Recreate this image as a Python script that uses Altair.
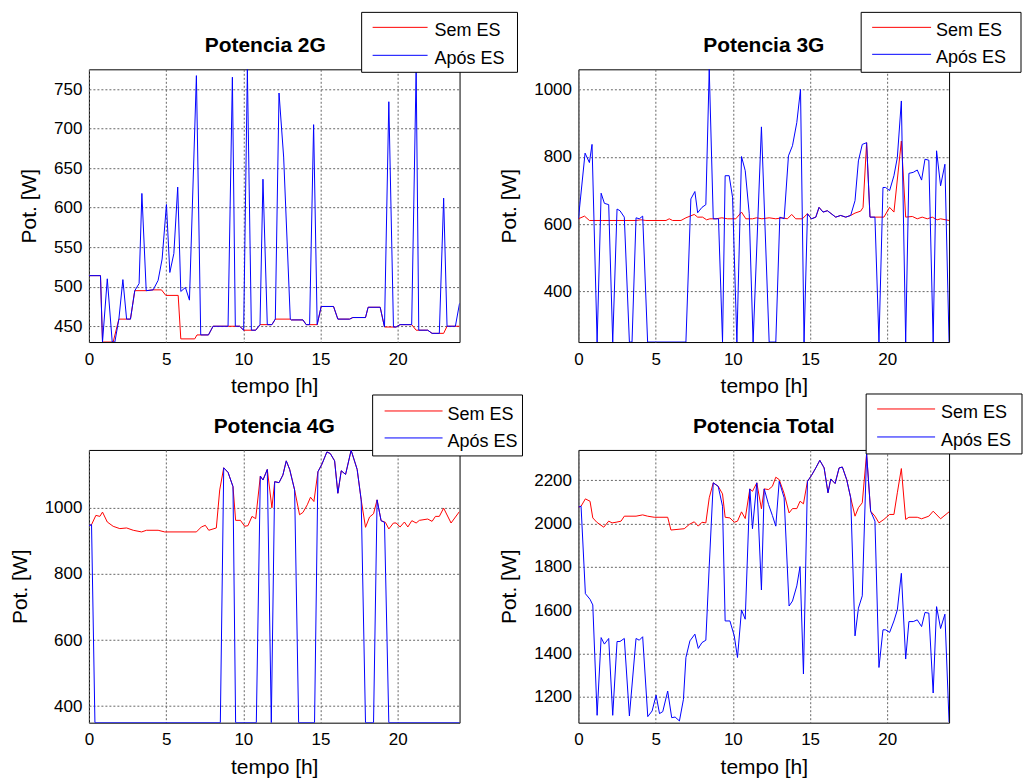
import altair as alt
import pandas as pd

FONT = "Liberation Sans"
RED = "#FF0000"
BLUE = "#0000FF"
SERIES = ["Sem ES", "Após ES"]
X_TICKS = [0, 5, 10, 15, 20]

# ---------------- Potencia 2G ----------------
t2g_sem = [0, 0.75, 0.88, 1.57, 1.94, 2.69, 2.97, 3.73, 4.16, 4.7, 4.98, 5.78, 5.95, 6.85, 7.0, 7.74,
           8.04, 9.76, 10.02, 10.8, 11.08, 11.85, 12.07, 13.04, 13.1, 13.86, 14.07, 14.78, 15.04, 15.84,
           16.12, 16.88, 17.09, 17.91, 18.08, 18.86, 19.14, 19.89, 20.15, 20.9, 21.19, 21.94, 22.22,
           22.97, 23.19, 24.0]
v2g_sem = [514, 514, 430, 430, 459, 459, 495, 495, 496, 496, 489, 489, 434, 434, 439, 439,
           450, 450, 445, 445, 452, 452, 459, 459, 458, 458, 452, 452, 475, 475,
           459, 459, 461, 461, 474, 474, 449, 449, 452, 452, 445, 445, 441,
           441, 450, 450]
t2g_apos = [0, 0.75, 0.88, 1.19, 1.51, 1.68, 1.94, 2.20, 2.44, 2.69, 2.97, 3.25, 3.43, 3.71, 4.16,
            4.48, 4.74, 5.02, 5.24, 5.5, 5.75, 5.95, 6.25, 6.51, 6.96, 7.24, 7.74, 8.04, 9.01, 9.29,
            9.48, 9.76, 10.02, 10.26, 10.52, 10.8, 11.08, 11.27, 11.55, 11.85, 12.07, 12.31, 12.61,
            13.04, 13.1, 13.86, 14.07, 14.29, 14.55, 14.78, 15.04, 15.84, 16.12, 16.88, 17.09, 17.91,
            18.08, 18.86, 19.14, 19.42, 19.72, 19.89, 20.15, 20.9, 21.19, 21.36, 21.94, 22.22, 22.69,
            22.97, 23.19, 23.73, 24.0]
v2g_apos = [514, 514, 430, 510, 430, 430, 459, 509, 459, 459, 495, 504, 618, 495, 496,
            508, 535, 604, 518, 542, 626, 494, 499, 483, 767, 439, 439, 450, 450, 765,
            450, 450, 445, 775, 445, 445, 452, 636, 452, 452, 459, 745, 664,
            459, 458, 458, 452, 452, 705, 452, 475, 475, 459, 459, 461, 461,
            474, 474, 449, 734, 449, 449, 452, 452, 775, 445, 445, 441, 441,
            612, 450, 450, 479]
y2g_domain = [430, 775]
y2g_ticks = [450, 500, 550, 600, 650, 700, 750]

# ---------------- Potencia 3G ----------------
t3g_sem = [0, 0.39, 0.71, 1.57, 3.73, 4.05, 4.37, 5.67, 5.88, 6.1, 6.64, 6.96, 7.5, 7.72, 8.04, 8.3,
           8.51, 8.9, 9.29, 9.66, 10.19, 10.56, 10.84, 11.27, 11.53, 11.88, 12.35, 12.78, 13.21, 13.53,
           13.81, 14.07, 14.5, 14.83, 15.09, 15.37, 15.58, 15.84, 16.12, 16.66, 16.98, 17.31, 17.63,
           17.91, 18.28, 18.43, 18.66, 18.88, 19.78, 20.15, 20.43, 20.91, 21.19, 21.62, 21.94, 22.26,
           22.59, 22.91, 23.23, 23.45, 24.0]
v3g_sem = [616, 624, 611, 611, 611, 613, 611, 611, 616, 611, 611, 619, 629, 621, 621, 613,
           616, 616, 619, 616, 616, 636, 616, 616, 619, 616, 619, 616, 619, 616,
           629, 616, 616, 631, 616, 621, 650, 636, 640, 621, 626, 621, 626,
           633, 639, 650, 842, 621, 621, 650, 636, 847, 621, 623, 616, 621,
           616, 621, 613, 616, 611]
t3g_apos = [0, 0.43, 0.71, 0.88, 1.21, 1.47, 1.68, 1.96, 2.22, 2.5, 2.69, 2.97, 3.3, 3.47, 3.73,
            3.94, 4.16, 4.48, 6.96, 7.28, 7.54, 7.72, 8.0, 8.25, 8.47, 8.73, 9.07, 9.33, 9.5, 9.76,
            9.98, 10.26, 10.56, 10.8, 11.06, 11.31, 11.85, 12.35, 12.78, 13.04, 13.32, 13.6, 13.86,
            14.14, 14.38, 14.61, 14.83, 15.09, 15.37, 15.58, 15.84, 16.12, 16.66, 16.98, 17.31, 17.63,
            17.91, 18.13, 18.38, 18.66, 18.88, 19.2, 19.46, 19.72, 19.89, 20.15, 20.43, 20.65, 20.91,
            21.19, 21.4, 21.68, 21.94, 22.22, 22.44, 22.69, 22.97, 23.19, 23.45, 23.73, 24.0]
v3g_apos = [616, 811, 783, 837, 250, 692, 662, 658, 250, 645, 640, 621, 250, 250, 619,
            616, 624, 250, 250, 675, 697, 634, 650, 658, 1060, 616, 616, 250, 744, 744,
            680, 250, 801, 759, 631, 250, 889, 250, 250, 621, 616, 803, 833,
            902, 1000, 250, 631, 616, 621, 650, 636, 640, 621, 626, 621, 626,
            670, 788, 837, 842, 621, 621, 250, 709, 709, 700, 744, 798, 966,
            250, 751, 754, 761, 731, 793, 790, 250, 818, 714, 778, 250]
y3g_domain = [250, 1060]
y3g_ticks = [400, 600, 800, 1000]

# ---------------- Potencia 4G ----------------
t4g_sem = [0, 0.17, 0.45, 0.71, 0.88, 1.19, 1.57, 2.0, 2.44, 2.87, 3.41, 3.73, 4.48, 4.91, 6.96,
           7.28, 7.54, 7.76, 8.25, 8.47, 8.73, 9.01, 9.33, 9.5, 9.81, 10.09, 10.3, 10.56, 10.8, 11.1,
           11.27, 11.55, 11.85, 12.03, 12.31, 12.56, 12.78, 13.0, 13.32, 13.64, 13.86, 14.14, 14.35,
           14.57, 14.83, 15.09, 15.41, 15.63, 15.91, 16.12, 16.34, 16.62, 16.98, 17.37, 17.63, 17.91,
           18.17, 18.43, 18.66, 18.92, 19.2, 19.42, 19.72, 19.89, 20.15, 20.43, 20.65, 20.91, 21.19,
           21.4, 21.94, 22.22, 22.44, 22.69, 22.97, 23.45, 24.0]
v4g_sem = [946, 949, 977, 974, 987, 957, 944, 937, 939, 932, 927, 932, 932, 927, 927,
           942, 947, 932, 939, 1054, 1121, 1107, 1064, 962, 962, 944, 946, 974, 967, 1096,
           1084, 1116, 1000, 1079, 1076, 1099, 1142, 1116, 1054, 979, 986, 1009, 1032,
           1019, 1109, 1132, 1169, 1164, 1142, 1044, 1112, 1101, 1174, 1116, 1024, 941,
           972, 982, 1024, 961, 956, 936, 954, 954, 942, 957, 942, 961, 954,
           962, 966, 959, 974, 974, 999, 954, 989]
t4g_apos = [0, 0.17, 0.39, 8.51, 8.73, 9.01, 9.33, 9.5, 10.84, 11.1, 11.27, 11.55, 11.81, 12.03,
            12.31, 12.56, 12.78, 13.0, 13.32, 13.58, 14.61, 14.83, 15.09, 15.41, 15.63, 15.91, 16.12,
            16.34, 16.62, 16.98, 17.37, 17.63, 17.91, 18.43, 18.66, 18.92, 19.14, 19.42, 24.0]
v4g_apos = [946, 949, 350, 350, 1121, 1107, 1064, 350, 350, 1096, 1084, 1116, 350, 1079,
            1076, 1099, 1142, 1116, 1054, 350, 350, 1109, 1132, 1169, 1164, 1142, 1044,
            1112, 1101, 1174, 1116, 1024, 350, 350, 1024, 961, 956, 350, 350]
y4g_domain = [350, 1175]
y4g_ticks = [400, 600, 800, 1000]

# ---------------- Potencia Total ----------------
ttot_sem = [0, 0.17, 0.45, 0.75, 0.93, 1.19, 1.64, 1.96, 2.18, 2.44, 2.76, 2.97, 3.73, 4.16, 4.48,
            4.91, 5.78, 5.99, 6.85, 7.18, 7.5, 7.76, 8.0, 8.25, 8.47, 8.73, 9.05, 9.33, 9.5, 9.81,
            10.09, 10.3, 10.56, 10.8, 11.1, 11.27, 11.55, 11.85, 12.03, 12.31, 12.56, 12.78, 13.0,
            13.32, 13.64, 13.86, 14.14, 14.35, 14.57, 14.83, 15.09, 15.37, 15.63, 15.91, 16.16, 16.34,
            16.62, 16.88, 17.09, 17.37, 17.63, 17.91, 18.13, 18.38, 18.66, 18.92, 19.2, 19.46, 19.78,
            20.15, 20.43, 20.65, 20.91, 21.19, 21.4, 21.94, 22.22, 22.69, 22.97, 23.45, 24.0]
vtot_sem = [2076, 2080, 2114, 2103, 2026, 2006, 1983, 2011, 2003, 2006, 2011, 2034, 2034, 2040, 2034,
            2029, 2029, 1970, 1976, 1996, 2008, 1988, 2006, 2003, 2119, 2188, 2172, 2137, 2029, 2026,
            2006, 2011, 2054, 2023, 2160, 2149, 2188, 2068, 2160, 2157, 2172, 2214, 2203,
            2139, 2049, 2069, 2069, 2103, 2091, 2195, 2222, 2257, 2292, 2257, 2142, 2206,
            2185, 2257, 2261, 2203, 2119, 2034, 2073, 2096, 2323, 2057, 2034, 2003, 2019,
            2042, 2042, 2142, 2254, 2019, 2029, 2029, 2022, 2034, 2057, 2022, 2054]
ttot_apos = [0, 0.17, 0.45, 0.75, 0.93, 1.21, 1.47, 1.68, 1.96, 2.22, 2.5, 2.69, 2.97, 3.3, 3.73,
             3.94, 4.16, 4.49, 4.77, 5.03, 5.25, 5.46, 5.78, 6.04, 6.26, 6.54, 6.8, 6.96, 7.22, 7.54,
             7.76, 8.0, 8.25, 8.47, 8.73, 9.05, 9.33, 9.5, 9.81, 10.09, 10.3, 10.56, 10.8, 11.1,
             11.27, 11.55, 11.85, 12.03, 12.31, 12.56, 12.78, 13.0, 13.32, 13.64, 13.86, 14.14,
             14.35, 14.57, 14.83, 15.09, 15.37, 15.63, 15.91, 16.16, 16.34, 16.62, 16.88, 17.09,
             17.37, 17.63, 17.91, 18.13, 18.38, 18.66, 18.92, 19.2, 19.46, 19.72, 19.89, 20.15,
             20.43, 20.65, 20.91, 21.19, 21.4, 21.68, 21.94, 22.22, 22.44, 22.69, 22.97, 23.19,
             23.45, 23.73, 24.0]
vtot_apos = [2076, 2080, 1676, 1650, 1624, 1114, 1473, 1443, 1469, 1114, 1455, 1455, 1469, 1111, 1469,
             1461, 1477, 1108, 1134, 1207, 1122, 1131, 1226, 1103, 1106, 1088, 1188, 1381, 1458, 1489,
             1423, 1450, 1461, 1804, 2188, 2172, 2080, 1550, 1550, 1481, 1381, 1601, 1558, 2160,
             1976, 2188, 1693, 2160, 2088, 2037, 1988, 2195, 2119, 1619, 1642, 1712,
             1801, 1305, 2195, 2222, 2257, 2292, 2257, 2142, 2206, 2185, 2257, 2261,
             2203, 2119, 1481, 1609, 1666, 2323, 2057, 2011, 1335, 1509, 1509, 1497,
             1550, 1601, 1770, 1374, 1547, 1547, 1555, 1524, 1589, 1586, 1217, 1616,
             1515, 1581, 1082]
ytot_domain = [1080, 2340]
ytot_ticks = [1200, 1400, 1600, 1800, 2000, 2200]

PANEL_W = 371
PANEL_H = 273


def panel(title, t_sem, v_sem, t_apos, v_apos, ydomain, yticks, leg, title_dx=0):
    x = alt.X("t:Q", scale=alt.Scale(domain=[0, 24], nice=False, zero=False),
              axis=alt.Axis(values=X_TICKS, title="tempo [h]", format="d"))
    y = alt.Y("v:Q", scale=alt.Scale(domain=ydomain, nice=False, zero=False),
              axis=alt.Axis(values=yticks, title="Pot. [W]", format="d"))
    df_s = pd.DataFrame({"t": t_sem, "v": v_sem})
    df_a = pd.DataFrame({"t": t_apos, "v": v_apos})
    one = pd.DataFrame({"k": [0]})
    sem = alt.Chart(df_s).mark_line(color=RED, strokeWidth=1, clip=True).encode(x=x, y=y)
    apos = alt.Chart(df_a).mark_line(color=BLUE, strokeWidth=1, clip=True).encode(x=x, y=y)
    bx0, bx1, by0, by1, lx0, lx1, ly1, ly2, tx = leg
    box = alt.Chart(one).mark_rect(fill="white", stroke="black", strokeWidth=1).encode(
        x=alt.value(bx0), x2=alt.value(bx1), y=alt.value(by0), y2=alt.value(by1))
    l1 = alt.Chart(one).mark_rule(color=RED, strokeWidth=1).encode(
        x=alt.value(lx0), x2=alt.value(lx1), y=alt.value(ly1))
    l2 = alt.Chart(one).mark_rule(color=BLUE, strokeWidth=1).encode(
        x=alt.value(lx0), x2=alt.value(lx1), y=alt.value(ly2))
    txt1 = alt.Chart(one).mark_text(text=SERIES[0], align="left", baseline="alphabetic",
                                    font=FONT, fontSize=18, color="black").encode(
        x=alt.value(tx), y=alt.value(ly1 + 9))
    txt2 = alt.Chart(one).mark_text(text=SERIES[1], align="left", baseline="alphabetic",
                                    font=FONT, fontSize=18, color="black").encode(
        x=alt.value(tx), y=alt.value(ly2 + 9))
    ttl = alt.Chart(one).mark_text(text=title, align="center", baseline="alphabetic",
                                   font=FONT, fontSize=21, fontWeight="bold", color="black").encode(
        x=alt.value(PANEL_W / 2 + title_dx), y=alt.value(-17))
    return alt.layer(sem, apos, box, l1, l2, txt1, txt2, ttl).properties(
        width=PANEL_W, height=PANEL_H)


p1 = panel("Potencia 2G", t2g_sem, v2g_sem, t2g_apos, v2g_apos, y2g_domain, y2g_ticks,
           (273, 429, -57, 3, 284, 339, -42, -14, 346), title_dx=-9)
p2 = panel("Potencia 3G", t3g_sem, v3g_sem, t3g_apos, v3g_apos, y3g_domain, y3g_ticks,
           (283, 443, -57, 3, 294, 353, -42, -15, 358))
p3 = panel("Potencia 4G", t4g_sem, v4g_sem, t4g_apos, v4g_apos, y4g_domain, y4g_ticks,
           (284, 434, -55, 6, 296, 354, -39, -12, 359))
p4 = panel("Potencia Total", ttot_sem, vtot_sem, ttot_apos, vtot_apos, ytot_domain, ytot_ticks,
           (288, 444, -56, 4, 299, 357, -41, -13, 363))

chart = alt.concat(p1, p2, p3, p4, columns=2, spacing={"row": 108, "column": 119},
                   bounds="flush",
                   padding={"left": 8, "top": 11, "right": 0, "bottom": 0}
                   ).configure(background="white").configure_view(
    stroke="black", strokeWidth=1
).configure_axis(
    grid=True, gridColor="#666666", gridDash=[2, 2], gridWidth=1,
    domain=False, ticks=False, labelFlush=False, labelOverlap=False,
    labelFont=FONT, labelFontSize=17, labelColor="black", labelPadding=7,
    titleFont=FONT, titleFontSize=21, titleFontWeight="normal", titleColor="black",
    titlePadding=11
).configure_axisX(labelPadding=9, titlePadding=9).configure_axisY(titlePadding=14)

chart.save("out.html", embed_options={"renderer": "svg", "actions": False})
